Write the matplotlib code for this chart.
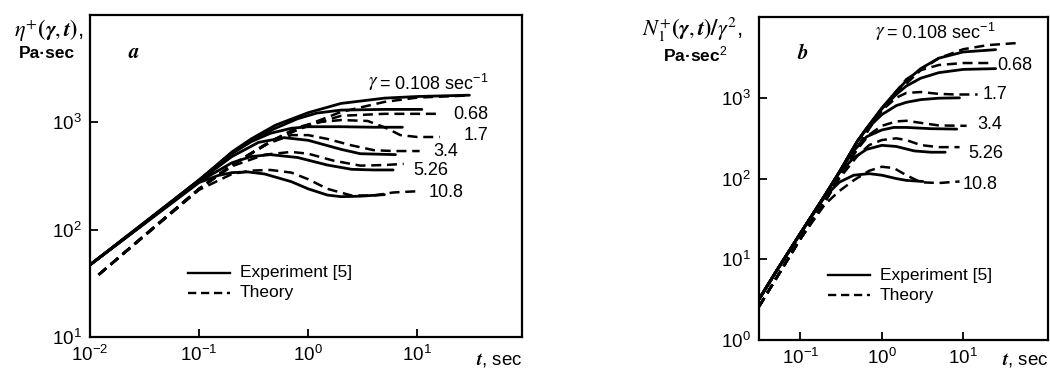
import matplotlib
matplotlib.use("Agg")
import matplotlib.pyplot as plt
from matplotlib.ticker import FixedLocator, NullLocator, LogFormatterSciNotation

plt.rcParams['font.family'] = ['Liberation Sans', 'DejaVu Sans']
plt.rcParams['mathtext.fontset'] = 'custom'
plt.rcParams['mathtext.rm'] = 'Liberation Sans'
plt.rcParams['mathtext.it'] = 'Liberation Sans:italic'

# ---------------- Panel a: eta+(gamma, t), Pa*sec ----------------
shear_labels = ["0.108", "0.68", "1.7", "3.4", "5.26", "10.8"]

a_xticks = [0.01, 0.1, 1, 10]
a_yticks = [10, 100, 1000]

a_exp_t = [
    [0.01, 0.03, 0.1, 0.2, 0.3, 0.5, 1, 2, 5, 10, 30],
    [0.01, 0.1, 0.2, 0.3, 0.5, 0.8, 1.2, 2, 5, 11],
    [0.01, 0.1, 0.2, 0.3, 0.45, 0.7, 1, 2, 4, 7.3],
    [0.01, 0.1, 0.2, 0.35, 0.6, 1, 2, 3, 6.3],
    [0.01, 0.1, 0.2, 0.3, 0.45, 0.8, 1.5, 2.5, 4, 6],
    [0.01, 0.1, 0.15, 0.2, 0.28, 0.4, 0.7, 1, 1.5, 2, 3, 5],
]
a_exp_v = [
    [47, 110, 290, 530, 700, 940, 1230, 1500, 1680, 1740, 1790],
    [47, 290, 520, 680, 880, 1080, 1220, 1300, 1320, 1320],
    [47, 290, 510, 660, 790, 880, 910, 910, 900, 900],
    [47, 285, 480, 650, 720, 680, 560, 510, 500],
    [47, 280, 420, 480, 500, 470, 400, 365, 360, 360],
    [47, 275, 320, 340, 345, 330, 280, 240, 210, 203, 205, 212],
]
a_th_t = [
    [0.012, 0.03, 0.1, 0.2, 0.5, 1, 2, 5, 10, 30],
    [0.012, 0.1, 0.2, 0.5, 1, 2, 5, 10, 16],
    [0.012, 0.1, 0.2, 0.5, 0.8, 1.2, 2, 3.5, 5, 7, 10, 16],
    [0.012, 0.1, 0.2, 0.4, 0.7, 1, 1.5, 2.5, 4, 6, 10.5],
    [0.012, 0.1, 0.2, 0.4, 0.7, 1, 1.7, 3, 5, 7.5],
    [0.012, 0.1, 0.2, 0.3, 0.45, 0.7, 1, 1.5, 2.5, 4, 6, 10],
]
a_th_v = [
    [38, 85, 240, 400, 700, 950, 1250, 1550, 1700, 1780],
    [38, 240, 400, 700, 930, 1150, 1200, 1200, 1200],
    [38, 240, 400, 700, 900, 1000, 1050, 1030, 900, 760, 730, 730],
    [38, 240, 400, 620, 760, 760, 700, 610, 550, 540, 540],
    [38, 240, 390, 500, 530, 510, 440, 395, 400, 410],
    [38, 235, 330, 355, 360, 340, 295, 240, 208, 208, 222, 228],
]
a_label_t = [3.5, 21.5, 26.5, 14, 9.2, 12.6]
a_label_v = [2300, 1180, 760, 536, 355, 222]

# ---------------- Panel b: N1+(gamma, t)/gamma^2, Pa*sec^2 ----------------
b_xticks = [0.1, 1, 10]
b_yticks = [1, 10, 100, 1000]

b_exp_t = [
    [0.031, 0.05, 0.1, 0.2, 0.3, 0.5, 0.65, 1, 1.5, 2, 3, 5, 10, 25],
    [0.031, 0.05, 0.1, 0.2, 0.3, 0.5, 0.65, 1, 1.5, 2, 3, 5, 10, 25],
    [0.031, 0.05, 0.1, 0.2, 0.3, 0.5, 0.65, 1, 1.5, 2, 3, 5, 9],
    [0.031, 0.05, 0.1, 0.2, 0.3, 0.45, 0.65, 1, 1.4, 2, 4, 8.3],
    [0.031, 0.05, 0.1, 0.2, 0.3, 0.45, 0.65, 1, 1.5, 2.5, 4, 6],
    [0.031, 0.05, 0.1, 0.2, 0.3, 0.45, 0.7, 1, 1.5, 2, 3.2],
]
b_exp_v = [
    [3.2, 7, 21, 62, 120, 290, 420, 750, 1200, 1630, 2300, 3100, 3700, 3950],
    [3.2, 7, 21, 62, 120, 290, 420, 730, 1100, 1400, 1750, 2050, 2250, 2300],
    [3.2, 7, 21, 62, 120, 290, 410, 620, 800, 880, 950, 990, 1000],
    [3.2, 7, 21, 62, 120, 220, 330, 400, 430, 430, 415, 410],
    [3.2, 7, 21, 62, 118, 180, 230, 258, 250, 220, 212, 212],
    [3.2, 7, 21, 60, 90, 110, 115, 110, 100, 95, 92],
]
b_th_t = [
    [0.031, 0.1, 0.2, 0.3, 0.5, 0.7, 1, 1.5, 2, 3, 5, 10, 20, 50],
    [0.031, 0.1, 0.2, 0.3, 0.5, 0.7, 1, 1.5, 2, 3, 5, 10, 22],
    [0.031, 0.1, 0.2, 0.3, 0.5, 0.7, 1, 1.5, 2, 3, 5, 8, 15],
    [0.031, 0.1, 0.2, 0.3, 0.5, 0.7, 1, 1.5, 2, 3, 5, 11],
    [0.031, 0.1, 0.2, 0.3, 0.5, 0.7, 1, 1.5, 2, 3, 5, 9],
    [0.031, 0.1, 0.2, 0.3, 0.45, 0.7, 1, 1.4, 2, 3, 5, 9],
]
b_th_v = [
    [2.6, 18, 52, 105, 240, 420, 700, 1100, 1500, 2200, 3100, 4000, 4500, 4800],
    [2.6, 18, 52, 105, 240, 420, 700, 1200, 1700, 2200, 2550, 2700, 2700],
    [2.6, 18, 52, 105, 240, 420, 700, 1000, 1150, 1180, 1120, 1100, 1100],
    [2.6, 18, 52, 105, 230, 350, 450, 510, 520, 490, 455, 450],
    [2.6, 18, 52, 100, 190, 260, 300, 315, 300, 260, 245, 245],
    [2.6, 18, 48, 70, 95, 125, 140, 135, 110, 90, 88, 92],
]
b_label_t = [0.82, 26.5, 17.4, 15, 11.4, 9.8]
b_label_v = [6300, 2500, 1090, 473, 205, 84]

fig = plt.figure(figsize=(10.5, 3.72), dpi=100)
axa = fig.add_axes([0.0857, 0.0941, 0.4114, 0.8656])
axb = fig.add_axes([0.7229, 0.086, 0.2752, 0.868])

solid_kw = dict(color='black', lw=2.0, solid_capstyle='round', solid_joinstyle='round')
dash_kw = dict(color='black', lw=1.8, dashes=(4.0, 2.3))

for ts, vs in zip(a_exp_t, a_exp_v):
    axa.plot(ts, vs, **solid_kw)
for ts, vs in zip(a_th_t, a_th_v):
    axa.plot(ts, vs, **dash_kw)
for ts, vs in zip(b_exp_t, b_exp_v):
    axb.plot(ts, vs, **solid_kw)
for ts, vs in zip(b_th_t, b_th_v):
    axb.plot(ts, vs, **dash_kw)

for ax, xl, yl, xt, yt in [(axa, (0.01, 91), (10, 1e4), a_xticks, a_yticks),
                           (axb, (0.031, 110), (1, 1e4), b_xticks, b_yticks)]:
    ax.set_xscale('log')
    ax.set_yscale('log')
    ax.set_xlim(*xl)
    ax.set_ylim(*yl)
    ax.xaxis.set_major_locator(FixedLocator(xt))
    ax.yaxis.set_major_locator(FixedLocator(yt))
    ax.xaxis.set_major_formatter(LogFormatterSciNotation())
    ax.yaxis.set_major_formatter(LogFormatterSciNotation())
    ax.xaxis.set_minor_locator(NullLocator())
    ax.yaxis.set_minor_locator(NullLocator())
    ax.tick_params(direction='in', length=6, width=1.3, labelsize=13.5, pad=6)
    for s in ax.spines.values():
        s.set_linewidth(1.6)

# curve labels
axa.text(a_label_t[0], a_label_v[0], r'$\gamma$', fontsize=14, va='center', ha='left',
         math_fontfamily='stix')
axa.text(a_label_t[0] * 1.28, a_label_v[0], '= 0.108 sec$^{-1}$', fontsize=13,
         va='center', ha='left')
for lab, t, v in zip(shear_labels[1:], a_label_t[1:], a_label_v[1:]):
    axa.text(t, v, lab, fontsize=13, va='center', ha='left')

axb.text(b_label_t[0], b_label_v[0], r'$\gamma$', fontsize=14, va='center', ha='left',
         math_fontfamily='stix')
axb.text(b_label_t[0] * 1.38, b_label_v[0], '= 0.108 sec$^{-1}$', fontsize=13,
         va='center', ha='left')
for lab, t, v in zip(shear_labels[1:], b_label_t[1:], b_label_v[1:]):
    axb.text(t, v, lab, fontsize=13, va='center', ha='left')

# panel letters
axa.text(0.088, 0.885, r'$\boldsymbol{a}$', transform=axa.transAxes, fontsize=15,
         math_fontfamily='stix', va='center', ha='left')
axb.text(0.13, 0.89, r'$\boldsymbol{b}$', transform=axb.transAxes, fontsize=15,
         math_fontfamily='stix', va='center', ha='left')

# legends (manual)
for ax, x0, x1, xt, y1, y2 in [(axa, 0.227, 0.324, 0.347, 0.20, 0.137),
                               (axb, 0.239, 0.384, 0.419, 0.20, 0.139)]:
    ax.plot([x0, x1], [y1, y1], transform=ax.transAxes, color='black', lw=1.7)
    ax.plot([x0, x1], [y2, y2], transform=ax.transAxes, color='black', lw=1.7,
            dashes=(3.5, 2.0))
    ax.text(xt, y1, 'Experiment [5]', transform=ax.transAxes, fontsize=12.5,
            va='center', ha='left')
    ax.text(xt, y2, 'Theory', transform=ax.transAxes, fontsize=12.5,
            va='center', ha='left')

# axis titles
fig.text(49 / 1050, 1 - 30 / 372, r'$\boldsymbol{\eta^{+}(\gamma,t)}$,', fontsize=16,
         math_fontfamily='stix', ha='center', va='center')
fig.text(47 / 1050, 1 - 54 / 372, 'Pa·sec', fontsize=12.5, ha='center', va='center',
         fontweight='bold')
fig.text(692 / 1050, 1 - 30 / 372, r'$\boldsymbol{N_1^{+}(\gamma,t)/\gamma^2}$,',
         fontsize=16, math_fontfamily='stix', ha='center', va='center')
fig.text(695 / 1050, 1 - 54 / 372, 'Pa·sec$^2$', fontsize=12.5, ha='center',
         va='center', fontweight='bold')

fig.text(522 / 1050, 1 - 360 / 372, r'$\boldsymbol{t}$, sec', fontsize=13.5,
         math_fontfamily='stix', ha='right', va='center')
fig.text(1048 / 1050, 1 - 360 / 372, r'$\boldsymbol{t}$, sec', fontsize=13.5,
         math_fontfamily='stix', ha='right', va='center')

fig.savefig('out.png', dpi=100)
